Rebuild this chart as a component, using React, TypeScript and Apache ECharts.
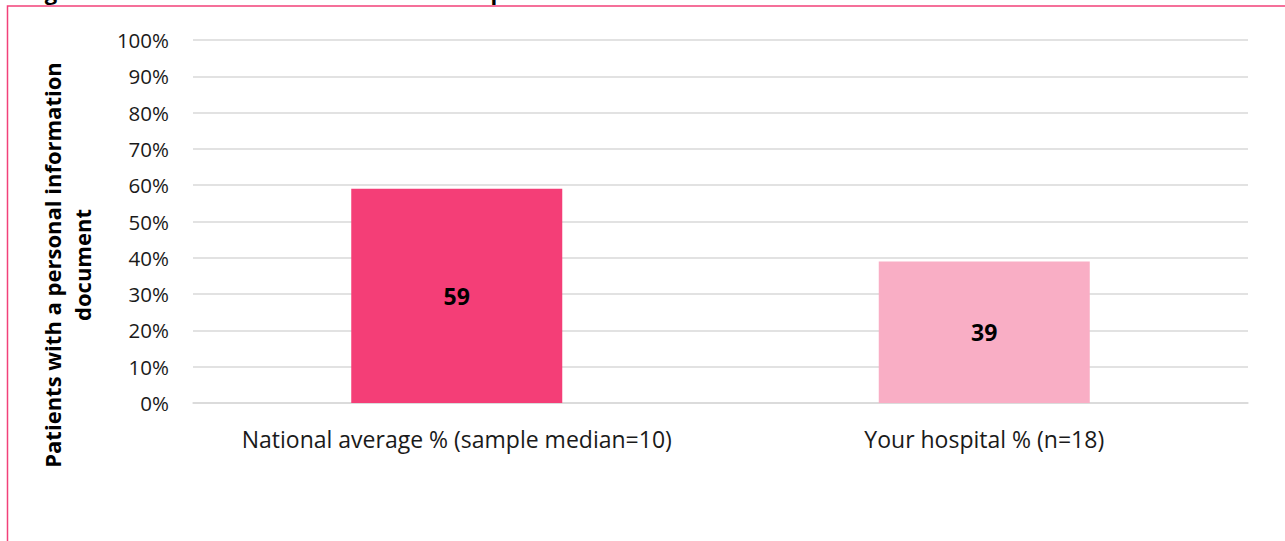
import React, { useEffect, useRef } from "react";
import * as echarts from "echarts";

const categories = ["National average % (sample median=10)", "Your hospital % (n=18)"];
const values = [59, 39];
const barColors = ["#F43E77", "#F9AEC5"];
const yTicks = { min: 0, max: 100, interval: 10 };
const yTitle = "Patients with a personal information\ndocument";
const topTitle = "Figure 6: Case notes audit: Patients with a personal information document.";

const FONT = "'Open Sans', 'Noto Sans', sans-serif";

export default function App() {
  const ref = useRef<HTMLDivElement>(null);
  useEffect(() => {
    if (!ref.current) return;
    const chart = echarts.init(ref.current, null, { renderer: "svg" });
    chart.setOption({
      animation: false,
      backgroundColor: "#ffffff",
      textStyle: { fontFamily: FONT },
      grid: { left: 193, right: 37, top: 40, bottom: 138, containLabel: false },
      xAxis: {
        type: "category",
        data: categories,
        axisTick: { show: false },
        axisLine: { show: true, lineStyle: { color: "#d9d9d9", width: 1.5 } },
        axisLabel: { interval: 0, fontSize: 23, color: "#1a1a1a", margin: 24, fontFamily: FONT },
      },
      yAxis: {
        type: "value",
        min: yTicks.min,
        max: yTicks.max,
        interval: yTicks.interval,
        axisLine: { show: false },
        axisTick: { show: false },
        splitLine: { show: true, lineStyle: { color: "#d9d9d9", width: 1.5 } },
        axisLabel: { formatter: "{value}%", fontSize: 20.5, color: "#1a1a1a", margin: 24, fontFamily: FONT },
      },
      series: [
        {
          type: "bar",
          barWidth: "40%",
          data: values.map((v, i) => ({ value: v, itemStyle: { color: barColors[i] } })),
          label: {
            show: true,
            position: "inside",
            formatter: "{c}",
            fontSize: 23,
            fontWeight: "bold",
            color: "#000000",
            fontFamily: FONT,
          },
        },
      ],
      graphic: [
        {
          type: "rect",
          shape: { x: 7.5, y: 6, width: 1320, height: 600 },
          style: { fill: "none", stroke: "#F2417A", lineWidth: 1.5 },
          silent: true,
        },
        {
          type: "text",
          x: 26,
          y: 2,
          style: {
            text: topTitle,
            font: `bold 22px ${FONT}`,
            fill: "#000000",
            textAlign: "left",
            textVerticalAlign: "bottom",
          },
        },
        {
          type: "text",
          x: 67,
          y: 265,
          rotation: Math.PI / 2,
          style: {
            text: yTitle,
            font: `bold 22px ${FONT}`,
            fill: "#000000",
            textAlign: "center",
            textVerticalAlign: "middle",
            lineHeight: 30,
          },
        },
      ],
    });
    return () => chart.dispose();
  }, []);
  return (
    <div
      ref={ref}
      style={{ position: "absolute", left: 0, top: 0, width: 1285, height: 541 }}
    />
  );
}
